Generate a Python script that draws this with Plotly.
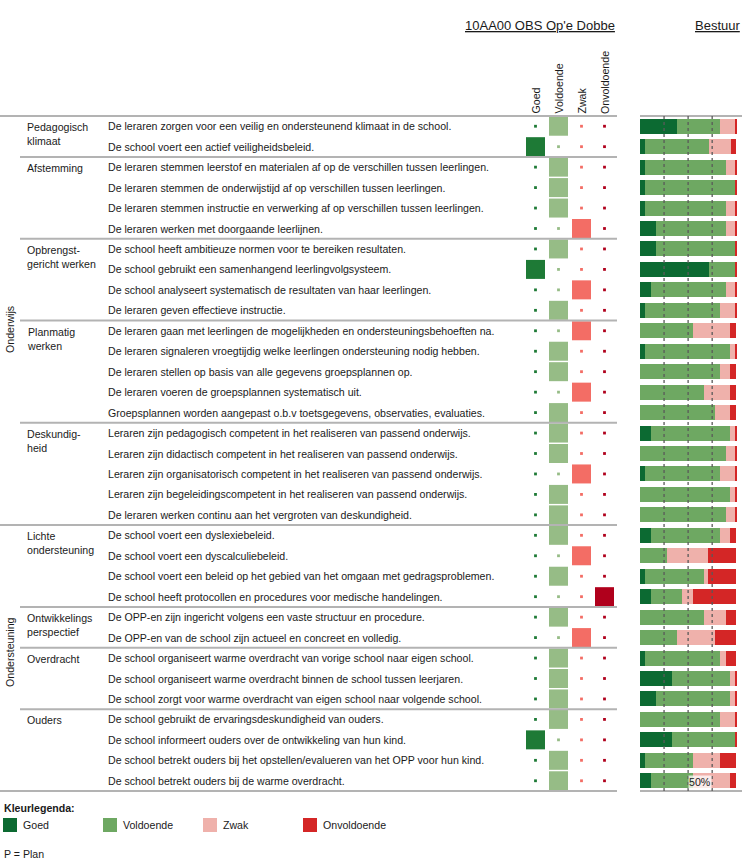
import plotly.graph_objects as go

W, H = 747, 864

# ---------------- data ----------------
sections = ["Onderwijs", "Ondersteuning"]
section_sizes = [20, 13]

categories = ["Pedagogisch<br>klimaat", "Afstemming", "Opbrengst-<br>gericht werken",
              "Planmatig<br>werken", "Deskundig-<br>heid", "Lichte<br>ondersteuning",
              "Ontwikkelings<br>perspectief", "Overdracht", "Ouders"]
category_sizes = [2, 4, 4, 5, 5, 4, 2, 3, 4]

statements = [
    "De leraren zorgen voor een veilig en ondersteunend klimaat in de school.",
    "De school voert een actief veiligheidsbeleid.",
    "De leraren stemmen leerstof en materialen af op de verschillen tussen leerlingen.",
    "De leraren stemmen de onderwijstijd af op verschillen tussen leerlingen.",
    "De leraren stemmen instructie en verwerking af op verschillen tussen leerlingen.",
    "De leraren werken met doorgaande leerlijnen.",
    "De school heeft ambitieuze normen voor te bereiken resultaten.",
    "De school gebruikt een samenhangend leerlingvolgsysteem.",
    "De school analyseert systematisch de resultaten van haar leerlingen.",
    "De leraren geven effectieve instructie.",
    "De leraren gaan met leerlingen de mogelijkheden en ondersteuningsbehoeften na.",
    "De leraren signaleren vroegtijdig welke leerlingen ondersteuning nodig hebben.",
    "De leraren stellen op basis van alle gegevens groepsplannen op.",
    "De leraren voeren de groepsplannen systematisch uit.",
    "Groepsplannen worden aangepast o.b.v toetsgegevens, observaties, evaluaties.",
    "Leraren zijn pedagogisch competent in het realiseren van passend onderwijs.",
    "Leraren zijn didactisch competent in het realiseren van passend onderwijs.",
    "Leraren zijn organisatorisch competent in het realiseren van passend onderwijs.",
    "Leraren zijn begeleidingscompetent in het realiseren van passend onderwijs.",
    "De leraren werken continu aan het vergroten van deskundigheid.",
    "De school voert een dyslexiebeleid.",
    "De school voert een dyscalculiebeleid.",
    "De school voert een beleid op het gebied van het omgaan met gedragsproblemen.",
    "De school heeft protocollen en procedures voor medische handelingen.",
    "De OPP-en zijn ingericht volgens een vaste structuur en procedure.",
    "De OPP-en van de school zijn actueel en concreet en volledig.",
    "De school organiseert warme overdracht van vorige school naar eigen school.",
    "De school organiseert warme overdracht binnen de school tussen leerjaren.",
    "De school zorgt voor warme overdracht van eigen school naar volgende school.",
    "De school gebruikt de ervaringsdeskundigheid van ouders.",
    "De school informeert ouders over de ontwikkeling van hun kind.",
    "De school betrekt ouders bij het opstellen/evalueren van het OPP voor hun kind.",
    "De school betrekt ouders bij de warme overdracht.",
]

rating_levels = ["Goed", "Voldoende", "Zwak", "Onvoldoende"]
school_rating = ["Voldoende", "Goed", "Voldoende", "Voldoende", "Voldoende", "Zwak",
                 "Voldoende", "Goed", "Zwak", "Voldoende", "Zwak", "Voldoende",
                 "Voldoende", "Zwak", "Voldoende", "Voldoende", "Voldoende", "Zwak",
                 "Voldoende", "Voldoende", "Voldoende", "Zwak", "Voldoende", "Onvoldoende",
                 "Voldoende", "Zwak", "Voldoende", "Voldoende", "Voldoende", "Voldoende",
                 "Goed", "Voldoende", "Voldoende"]

# Bestuur distribution (%)
bestuur_goed = [38, 5, 5, 5, 5, 17, 17, 72, 11, 5, 0, 5, 0, 0, 0, 11, 0, 5, 0, 0,
                11, 0, 5, 11, 0, 0, 5, 33, 17, 0, 33, 5, 11]
bestuur_voldoende = [45, 67, 84, 94, 84, 72, 82, 27, 78, 78, 55, 89, 83, 66, 78, 83, 89, 78, 94, 89,
                     72, 28, 61, 33, 66, 38, 78, 61, 77, 83, 66, 50, 44]
bestuur_zwak = [16, 23, 10, 0, 10, 10, 0, 0, 10, 16, 39, 5, 11, 28, 16, 5, 10, 16, 5, 10,
                11, 43, 5, 11, 23, 40, 6, 5, 5, 16, 0, 28, 39]
bestuur_onvoldoende = [1, 5, 1, 1, 1, 1, 1, 1, 1, 1, 6, 1, 6, 6, 6, 1, 1, 1, 1, 1,
                       6, 29, 29, 45, 11, 22, 11, 1, 1, 1, 1, 17, 6]

guide_values = [25, 50, 75]

# ---------------- styling ----------------
FONT = "Arial, Liberation Sans, sans-serif"
TXT = 10.6
TOP_PX, BOT_PX = 116, 791
N = len(statements)
PITCH = (BOT_PX - TOP_PX) / N
y_top = 0.5 - TOP_PX / PITCH
y_bot = 0.5 + (H - TOP_PX) / PITCH

def py(px):
    return 1 - px / H

def px_x(px):
    return px / W

square_colors = {"Goed": "#1e7a36", "Voldoende": "#96bc86", "Zwak": "#f36d65", "Onvoldoende": "#b0001c"}
bar_colors = {"Goed": "#0c6a32", "Voldoende": "#6ea862", "Zwak": "#efb1ab", "Onvoldoende": "#d42626"}
LINE = "#b3b3b3"

rows = list(range(1, N + 1))
fig = go.Figure()

# school squares
for k, lvl in enumerate(rating_levels):
    sizes = [19 if r == lvl else 2.8 for r in school_rating]
    fig.add_trace(go.Scatter(
        x=[k] * N, y=rows, mode="markers", xaxis="x", yaxis="y",
        marker=dict(symbol="square", size=sizes, color=square_colors[lvl], opacity=1,
                    line=dict(width=0)),
        showlegend=False, hoverinfo="skip"))

# bestuur stacked bars
for lvl, vals in zip(rating_levels, [bestuur_goed, bestuur_voldoende, bestuur_zwak, bestuur_onvoldoende]):
    fig.add_trace(go.Bar(
        x=vals, y=rows, orientation="h", xaxis="x2", yaxis="y", width=0.73,
        marker=dict(color=bar_colors[lvl], line=dict(width=0)), name=lvl,
        showlegend=False, hoverinfo="skip"))

shapes = []
annotations = []

# horizontal separators
shapes.append(dict(type="line", xref="paper", yref="y", x0=0, x1=px_x(617), y0=0.5, y1=0.5,
                   line=dict(color=LINE, width=2)))
start = 0
for sz in category_sizes[:-1]:
    start += sz
    shapes.append(dict(type="line", xref="paper", yref="y", x0=px_x(20), x1=px_x(617),
                       y0=start + 0.5, y1=start + 0.5, line=dict(color=LINE, width=2)))
start = 0
for sz in section_sizes:
    start += sz
    shapes.append(dict(type="line", xref="paper", yref="y", x0=0, x1=px_x(617),
                       y0=start + 0.5, y1=start + 0.5, line=dict(color=LINE, width=2)))

# bar panel lines
for yy in [0.5, N + 0.5]:
    shapes.append(dict(type="line", xref="paper", yref="y", x0=px_x(640), x1=px_x(742),
                       y0=yy, y1=yy, line=dict(color=LINE, width=2)))
for g in guide_values:
    shapes.append(dict(type="line", xref="x2", yref="y", x0=g, x1=g, y0=0.5, y1=N + 0.5,
                       layer="above", line=dict(color="#5a5a5a", width=1.3, dash="dot")))

# statements
for i, s in enumerate(statements):
    annotations.append(dict(xref="paper", yref="y", x=px_x(106), y=i + 1, text=s,
                            showarrow=False, xanchor="left", yanchor="middle",
                            font=dict(size=TXT, color="#1a1a1a")))

# categories
start = 0
for c, sz in zip(categories, category_sizes):
    annotations.append(dict(xref="paper", yref="y", x=px_x(25), y=start + 0.5, yshift=-3,
                            text=c, showarrow=False, xanchor="left", yanchor="top", align="left",
                            font=dict(size=TXT, color="#1a1a1a")))
    start += sz

# sections (vertical)
sec_centers_px = [330, 652]
for s, cpx in zip(sections, sec_centers_px):
    annotations.append(dict(xref="paper", yref="paper", x=px_x(10), y=py(cpx), text=s,
                            textangle=-90, showarrow=False, xanchor="center", yanchor="middle",
                            font=dict(size=TXT, color="#1a1a1a")))

# column headers
for k, lvl in enumerate(rating_levels):
    annotations.append(dict(xref="x", yref="paper", x=k, y=py(116), text=lvl,
                            textangle=-90, showarrow=False, xanchor="center", yanchor="bottom",
                            font=dict(size=TXT, color="#1a1a1a")))

# titles
annotations.append(dict(xref="paper", yref="paper", x=px_x(617), y=py(25), text="<u>10AA00 OBS Op'e Dobbe</u>",
                        showarrow=False, xanchor="right", yanchor="middle",
                        font=dict(size=13, color="#1a1a1a")))
annotations.append(dict(xref="paper", yref="paper", x=px_x(742), y=py(25), text="<u>Bestuur</u>",
                        showarrow=False, xanchor="right", yanchor="middle",
                        font=dict(size=13, color="#1a1a1a")))

# 50% label
annotations.append(dict(xref="x2", yref="y", x=50, y=N, yshift=-1, text="50%", showarrow=False,
                        xanchor="left", yanchor="middle", bgcolor="rgba(255,255,255,0.75)",
                        borderpad=0, font=dict(size=TXT, color="#1a1a1a")))

# colour legend
annotations.append(dict(xref="paper", yref="paper", x=px_x(2), y=py(808), text="<b>Kleurlegenda:</b>",
                        showarrow=False, xanchor="left", yanchor="middle",
                        font=dict(size=TXT, color="#1a1a1a")))
for k, lvl in enumerate(rating_levels):
    x0 = 3 + 100 * k
    shapes.append(dict(type="rect", xref="paper", yref="paper", x0=px_x(x0), x1=px_x(x0 + 14),
                       y0=py(832), y1=py(818), fillcolor=bar_colors[lvl], line=dict(width=0)))
    annotations.append(dict(xref="paper", yref="paper", x=px_x(x0 + 18), y=py(825), text=lvl,
                            showarrow=False, xanchor="left", yanchor="middle",
                            font=dict(size=TXT, color="#1a1a1a")))
annotations.append(dict(xref="paper", yref="paper", x=px_x(2), y=py(854), text="P = Plan",
                        showarrow=False, xanchor="left", yanchor="middle",
                        font=dict(size=TXT, color="#1a1a1a")))

fig.update_layout(
    width=W, height=H, margin=dict(l=0, r=0, t=0, b=0),
    paper_bgcolor="white", plot_bgcolor="rgba(0,0,0,0)",
    font=dict(family=FONT, size=11, color="#1a1a1a"),
    barmode="stack", bargap=0,
    xaxis=dict(domain=[px_x(524), px_x(616)], range=[-0.5, 3.5], visible=False, anchor="y", fixedrange=True),
    xaxis2=dict(domain=[px_x(640), px_x(742)], range=[0, 106], visible=False, anchor="y", fixedrange=True),
    yaxis=dict(domain=[0, 1], range=[y_bot, y_top], visible=False, fixedrange=True),
    shapes=shapes, annotations=annotations,
)

fig.write_html("out.html", config={"displayModeBar": False},
               post_script="document.body.style.margin='0px';document.body.style.overflow='hidden';")
